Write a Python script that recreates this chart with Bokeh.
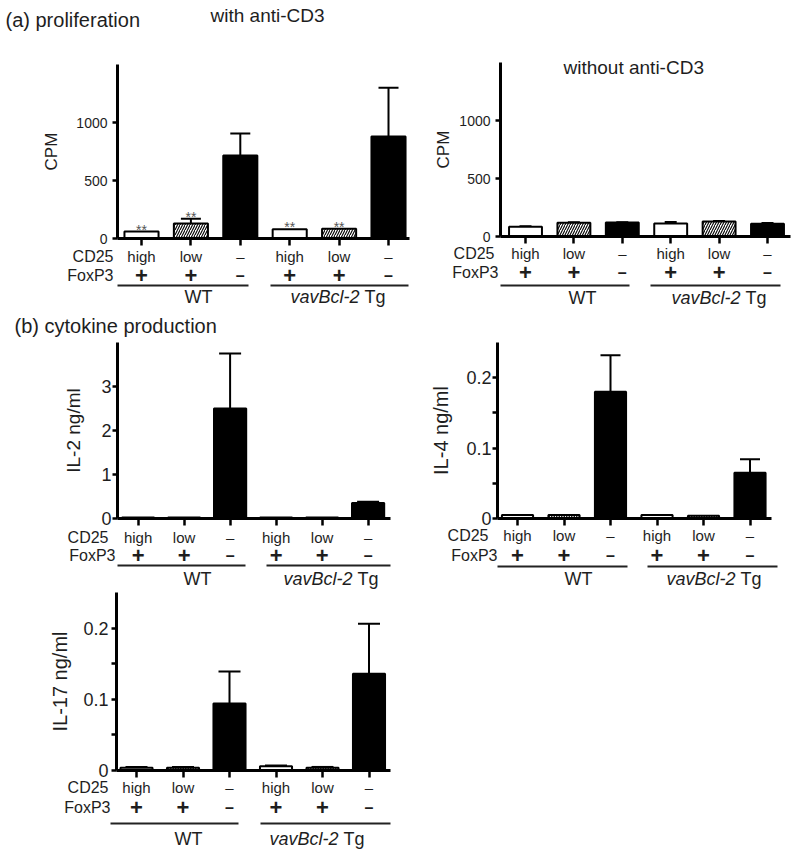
from bokeh.plotting import figure
from bokeh.models import Range1d, LinearAxis, FixedTicker, Label, ColumnDataSource, Whisker, TeeHead
from bokeh.layouts import column, row
from bokeh.embed import file_html
from bokeh.resources import INLINE
from bokeh.core.properties import value

FONT = "Liberation Sans"
INK = "#1e1e1e"

# ---------------- data ----------------
cd25 = ["high", "low", "–", "high", "low", "–"]
foxp3 = ["+", "+", "–", "+", "+", "–"]
bar_fill = ["white", "white", "black", "white", "white", "black"]
bar_hatch = [" ", "/", " ", " ", "/", " "]
groups = ["WT", "vavBcl-2", "Tg"]

cpm_with = [60, 130, 715, 80, 85, 880]
cpm_with_err = [0, 40, 190, 0, 0, 420]
cpm_with_sig = ["**", "**", "", "**", "**", ""]

cpm_without = [85, 118, 120, 112, 130, 110]
cpm_without_err = [3, 4, 3, 12, 4, 6]
no_sig = ["", "", "", "", "", ""]

il2 = [0.02, 0.02, 2.5, 0.02, 0.02, 0.35]
il2_err = [0.0, 0.0, 1.25, 0.0, 0.0, 0.03]

il4 = [0.005, 0.005, 0.18, 0.005, 0.004, 0.065]
il4_err = [0.0, 0.0, 0.052, 0.0, 0.0, 0.019]

il17 = [0.004, 0.004, 0.094, 0.006, 0.004, 0.136]
il17_err = [0.001, 0.001, 0.045, 0.001, 0.001, 0.07]

cpm_ticks = [0, 500, 1000]
il2_ticks = [0, 1, 2, 3]
il_small_ticks = [0, 0.1, 0.2]
il_small_minor = [0.05, 0.15]


def panel(vals, errs, sig, ylabel, ymax, major, minor, g, titles=()):
    scale = (g["zero"] - g["ytop"]) / ymax

    def X(px):
        return (px - g["x0"]) / g["dx"]

    def Y(py):
        return (g["zero"] - py) / scale

    W = g["right"] - g["left"]
    H = g["bot"] - g["top"]
    p = figure(title=None, frame_width=W, frame_height=H,
               min_border_left=0, min_border_right=0, min_border_top=0, min_border_bottom=0,
               x_range=Range1d(X(g["left"]), X(g["right"])),
               y_range=Range1d(Y(g["bot"]), Y(g["top"])),
               x_axis_location=None, y_axis_location=None,
               output_backend="svg", toolbar_location=None)
    p.outline_line_color = None
    p.grid.visible = False

    ya = LinearAxis(fixed_location=X(g["axis"]), bounds=(0, ymax),
                    ticker=FixedTicker(ticks=major, minor_ticks=minor),
                    axis_label=ylabel, axis_label_text_font=FONT,
                    axis_label_text_font_size=g["ylfs"], axis_label_text_font_style="normal",
                    axis_label_text_color=INK, axis_label_standoff=g["als"],
                    major_label_text_font=FONT, major_label_text_font_size=g["tfs"],
                    major_label_text_color=INK, major_label_standoff=g["mls"],
                    axis_line_width=3, axis_line_color="black",
                    major_tick_line_width=2.5, major_tick_out=5, major_tick_in=0,
                    minor_tick_line_width=2.5, minor_tick_out=5, minor_tick_in=0)
    p.add_layout(ya, "left")

    xs = list(range(len(vals)))
    xa = LinearAxis(fixed_location=0, bounds=(X(g["axis"]), X(g["axend"])),
                    ticker=FixedTicker(ticks=xs),
                    major_label_overrides={i: cd25[i] for i in xs},
                    major_label_text_font=FONT, major_label_text_font_size="15px",
                    major_label_text_color=INK, major_label_standoff=g["xls"],
                    axis_line_width=3, axis_line_color="black",
                    major_tick_line_width=2.5, major_tick_out=7, major_tick_in=0,
                    minor_tick_out=0, minor_tick_in=0)
    p.add_layout(xa, "below")

    src = ColumnDataSource(dict(x=xs, top=vals, fill=bar_fill, hatch=bar_hatch))
    p.vbar(x="x", top="top", bottom=0, width=g["bw"], fill_color="fill", line_color="black",
           line_width=2, hatch_pattern="hatch", hatch_color="black", hatch_scale=5,
           hatch_weight=1.1, source=src)

    idx = [i for i in xs if errs[i] > 0]
    esrc = ColumnDataSource(dict(base=idx, lower=[vals[i] for i in idx],
                                 upper=[vals[i] + errs[i] for i in idx]))
    p.add_layout(Whisker(source=esrc, base="base", lower="lower", upper="upper",
                         dimension="height", line_width=2, line_color="black",
                         upper_head=TeeHead(size=g["cap"], line_width=2, line_color="black"),
                         lower_head=None))

    # significance stars
    sx = [i for i in xs if sig[i]]
    if sx:
        ssrc = ColumnDataSource(dict(x=sx, y=[vals[i] + errs[i] for i in sx], t=[sig[i] for i in sx]))
        p.text(x="x", y="y", text="t", source=ssrc, text_align="center",
               text_baseline="alphabetic", y_offset=-2, text_font=value(FONT),
               text_font_size="14px", text_color="#555555")

    # FoxP3 row
    fsrc = ColumnDataSource(dict(x=xs, y=[Y(g["r2"])] * len(xs), t=foxp3,
                                 fs=["22px" if s == "+" else "16px" for s in foxp3]))
    p.text(x="x", y="y", text="t", source=fsrc, text_align="center", text_baseline="middle",
           text_font=value(FONT), text_font_size="fs", text_font_style="bold", text_color=INK)

    # group underlines
    p.segment(x0=[X(g["wt"][0]), X(g["tg"][0])], y0=[Y(g["rl"])] * 2,
              x1=[X(g["wt"][1]), X(g["tg"][1])], y1=[Y(g["rl"])] * 2,
              line_color="#222222", line_width=2)

    lab = dict(text_font=FONT, text_color=INK, text_baseline="middle")
    p.add_layout(Label(x=X(g["cdr"]), y=Y(g["r1"]), text="CD25", text_align="right",
                       text_font_size="16px", **lab))
    p.add_layout(Label(x=X(g["fxr"]), y=Y(g["r2"]), text="FoxP3", text_align="right",
                       text_font_size="16px", **lab))
    p.add_layout(Label(x=X(g["wtc"]), y=Y(g["rg"]), text=groups[0], text_align="center",
                       text_font_size="18px", **lab))
    p.add_layout(Label(x=X(g["tgs"]), y=Y(g["rg"]), text=groups[1], text_align="right",
                       text_font_size="18px", text_font_style="italic", **lab))
    p.add_layout(Label(x=X(g["tgs"]), y=Y(g["rg"]), x_offset=5, text=groups[2], text_align="left",
                       text_font_size="18px", **lab))
    for (txt, px, py, fs) in titles:
        p.add_layout(Label(x=X(px), y=Y(py), text=txt, text_align="left",
                           text_font_size=fs, **lab))
    return p


gA1 = dict(left=0, right=420, top=0, bot=310, axis=117, axend=409, ytop=64, zero=238,
           x0=141, dx=49.4, bw=0.69, cap=20, r1=256, r2=275, rl=285, rg=296, xls=2,
           cdr=113, fxr=113, wt=(117, 248), tg=(270, 408), wtc=198, tgs=359,
           ylfs="17px", tfs="14px", als=12, mls=5)
gA2 = dict(left=420, right=800, top=0, bot=310, axis=500, axend=790, ytop=62, zero=236,
           x0=525, dx=48.4, bw=0.68, cap=12, r1=253, r2=272, rl=285, rg=297, xls=1,
           cdr=494, fxr=498, wt=(500, 629), tg=(650, 780), wtc=582, tgs=740,
           ylfs="17px", tfs="14px", als=3, mls=5)
gB1 = dict(left=0, right=420, top=310, bot=590, axis=117, axend=390, ytop=342, zero=518,
           x0=137.6, dx=46, bw=0.70, cap=22, r1=537, r2=555, rl=565, rg=578, xls=3,
           cdr=108, fxr=115, wt=(117, 245), tg=(266, 390), wtc=197, tgs=352,
           ylfs="19px", tfs="18px", als=14, mls=1)
gB2 = dict(left=420, right=800, top=310, bot=590, axis=497, axend=771, ytop=342, zero=518,
           x0=517, dx=46.5, bw=0.67, cap=20, r1=535, r2=555, rl=566, rg=578, xls=1,
           cdr=488, fxr=497, wt=(497, 627), tg=(647, 777), wtc=578, tgs=735,
           ylfs="20px", tfs="18px", als=11, mls=1)
gB3 = dict(left=0, right=420, top=590, bot=854, axis=116, axend=390, ytop=592, zero=770,
           x0=136, dx=46.5, bw=0.69, cap=22, r1=787, r2=807, rl=823, rg=838, xls=1,
           cdr=108, fxr=110, wt=(110, 238), tg=(260, 390), wtc=188, tgs=338,
           ylfs="20px", tfs="18px", als=9, mls=3)

pA1 = panel(cpm_with, cpm_with_err, cpm_with_sig, "CPM", 1500, cpm_ticks, [], gA1,
            titles=[("(a) proliferation", 5, 19, "20px"), ("with anti-CD3", 210, 15, "19px")])
pA2 = panel(cpm_without, cpm_without_err, no_sig, "CPM", 1500, cpm_ticks, [], gA2,
            titles=[("without anti-CD3", 563, 67, "19px")])
pB1 = panel(il2, il2_err, no_sig, "IL-2 ng/ml", 4, il2_ticks, [], gB1,
            titles=[("(b) cytokine production", 14, 325, "20px")])
pB2 = panel(il4, il4_err, no_sig, "IL-4 ng/ml", 0.25, il_small_ticks, il_small_minor, gB2)
pB3 = panel(il17, il17_err, no_sig, "IL-17 ng/ml", 0.25, il_small_ticks, il_small_minor, gB3)

layout = column(row(pA1, pA2), row(pB1, pB2), row(pB3))
open("out.html", "w").write(file_html(layout, INLINE))
